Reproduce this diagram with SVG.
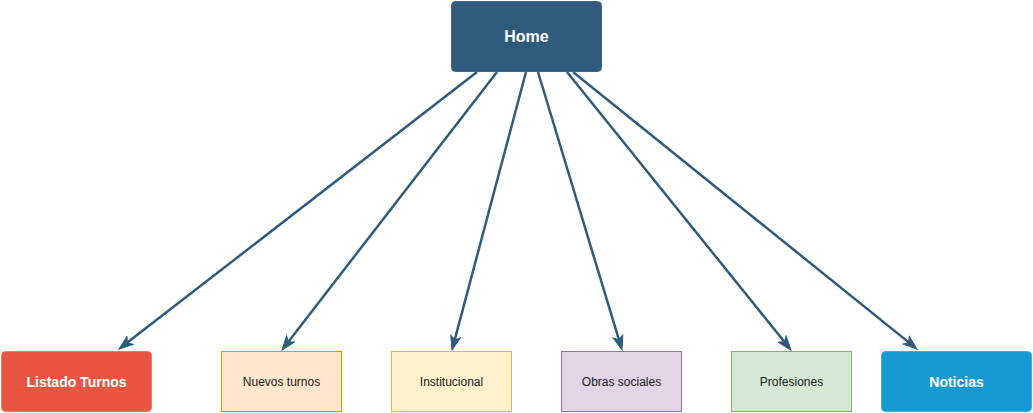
<svg xmlns="http://www.w3.org/2000/svg" width="1033" height="413" viewBox="0 0 1033 413">
<style>
  .lbl { font-family: "Liberation Sans", Arial, sans-serif; text-anchor: middle; dominant-baseline: central; }
  .bold { font-weight: bold; fill: #FFFFFF; font-size: 14px; }
  .plain { fill: #1A1A1A; font-size: 12px; }
  .edge { fill: none; stroke: #2F5B7C; stroke-width: 2.5; }
</style>
<defs>
  <marker id="arrow" markerUnits="userSpaceOnUse" markerWidth="16" markerHeight="12" refX="4.5" refY="6" orient="auto" viewBox="0 0 16 12">
    <path d="M1,1 L15,6 L1,11 L4.5,6 Z" fill="#2F5B7C" stroke="#2F5B7C" stroke-width="1"/>
  </marker>
</defs>
<rect width="1033" height="413" fill="#FFFFFF"/>
<g id="connectors">
  <line class="edge" x1="477" y1="72" x2="127.3" y2="342.6" marker-end="url(#arrow)"/>
  <line class="edge" x1="497" y1="72" x2="288.4" y2="341.7" marker-end="url(#arrow)"/>
  <line class="edge" x1="526" y1="72" x2="454.7" y2="339.9" marker-end="url(#arrow)"/>
  <line class="edge" x1="538" y1="72" x2="619" y2="339.9" marker-end="url(#arrow)"/>
  <line class="edge" x1="567" y1="72" x2="784.4" y2="341.8" marker-end="url(#arrow)"/>
  <line class="edge" x1="573" y1="72" x2="908.8" y2="342.4" marker-end="url(#arrow)"/>
</g>
<g id="home">
  <rect x="451.5" y="1.5" width="150" height="70" rx="4" fill="#2F5B7C" stroke="#3D6A8C" stroke-width="1"/>
  <text class="lbl bold" x="526.5" y="36.5" style="font-size:16px">Home</text>
</g>
<g id="listado-turnos">
  <rect x="1.5" y="351.5" width="150" height="60" rx="4" fill="#E85642" stroke="#EF7A6A" stroke-width="1"/>
  <text class="lbl bold" x="76.5" y="381.5">Listado Turnos</text>
</g>
<g id="nuevos-turnos">
  <rect x="221.5" y="351.5" width="120" height="60" fill="#FFE6CC" stroke="#D79B00" stroke-width="1"/>
  <text class="lbl plain" x="281.5" y="381.5">Nuevos turnos</text>
</g>
<g id="institucional">
  <rect x="391.5" y="351.5" width="120" height="60" fill="#FFF2CC" stroke="#D6B656" stroke-width="1"/>
  <text class="lbl plain" x="451.5" y="381.5">Institucional</text>
</g>
<g id="obras-sociales">
  <rect x="561.5" y="351.5" width="120" height="60" fill="#E1D5E7" stroke="#9673A6" stroke-width="1"/>
  <text class="lbl plain" x="621.5" y="381.5">Obras sociales</text>
</g>
<g id="profesiones">
  <rect x="731.5" y="351.5" width="120" height="60" fill="#D5E8D4" stroke="#82B366" stroke-width="1"/>
  <text class="lbl plain" x="791.5" y="381.5">Profesiones</text>
</g>
<g id="noticias">
  <rect x="881.5" y="351.5" width="150" height="60" rx="4" fill="#1699D3" stroke="#45ADDC" stroke-width="1"/>
  <text class="lbl bold" x="956.5" y="381.5">Noticias</text>
</g>
</svg>
